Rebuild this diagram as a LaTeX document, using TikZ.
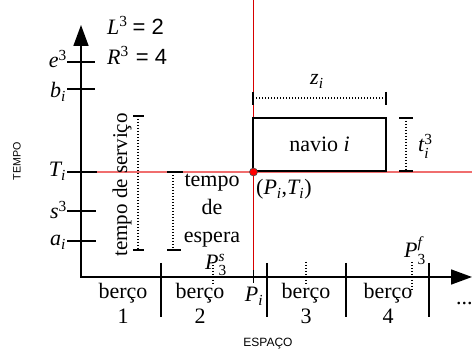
\documentclass[tikz,border=0pt]{standalone}
\usepackage{amsmath}
\usepackage{fontspec}
\setmainfont{Liberation Serif}
\setsansfont{Liberation Sans}
\usetikzlibrary{arrows.meta}
\definecolor{linhaT}{RGB}{240,110,110}
\definecolor{linhaP}{RGB}{215,0,0}
\newcommand{\tv}[1]{\textit{#1}}
\begin{document}
\begin{tikzpicture}[x=1pt, y=-1pt, >={Triangle[length=21pt,width=15pt]},
    every node/.style={inner sep=0pt, font=\fontsize{22}{26}\selectfont},
    axis/.style={line width=1.6pt},
    tick/.style={line width=1.3pt},
    dim/.style={line width=1.1pt, dash pattern=on 1.3pt off 1.7pt},
    sans/.style={font=\sffamily\fontsize{#1}{#1}\selectfont}]
    \useasboundingbox (0,0) rectangle (472,352);

    % linhas vermelhas de referencia
    \draw[linhaT, line width=1.3pt] (97,172) -- (472,172);
    \draw[linhaP, line width=1.1pt] (253.5,0) -- (253.5,277);

    % eixos
    \coordinate (O) at (81,277);
    \coordinate (Ytop) at (81,25);
    \coordinate (Xend) at (472,277);
    \draw[axis,<->] (Ytop) -- (O) -- (Xend);
    \node[sans=10.7, rotate=90] (tempo) at (17,161) {TEMPO};
    \node[sans=12] (espaco) at (268,344) {ESPAÇO};

    % marcas do eixo do tempo
    \draw[tick] (67,62) -- (95,62);
    \node[anchor=base east] (e3) at (67,68) {$\tv{e}^{\text{3}}$};
    \draw[tick] (67,89) -- (95,89);
    \node[anchor=base east] (bi) at (66,98) {$\tv{b}_{\tv{i}}$};
    \draw[tick] (67,172) -- (97,172);
    \node[anchor=base east] (Ti) at (66,177) {$\tv{T}_{\tv{i}}$};
    \draw[tick] (67,211) -- (96,211);
    \node[anchor=base east] (s3) at (67,219) {$\tv{s}^{\text{3}}$};
    \draw[tick] (67,241) -- (96,241);
    \node[anchor=base east] (ai) at (66,246) {$\tv{a}_{\tv{i}}$};

    % dados do berco
    \node[anchor=base west] (L3) at (107,35) {$\tv{L}^{\text{3}}$\hspace{5pt}\sffamily= 2};
    \node[anchor=base west] (R3) at (107,65) {$\tv{R}^{\text{3}}$\hspace{7pt}\sffamily= 4};

    % tempo de servico
    \coordinate (sv1) at (138,116);
    \coordinate (sv2) at (138,250);
    \draw[dim] (sv1) -- (sv2);
    \draw[tick] ([xshift=-5pt]sv1) -- ([xshift=6pt]sv1);
    \draw[tick] ([xshift=-5pt]sv2) -- ([xshift=6pt]sv2);
    \node[rotate=90, font=\fontsize{21}{24}\selectfont] (servico) at (122,185) {tempo de serviço};

    % tempo de espera
    \coordinate (es1) at (173,172);
    \coordinate (es2) at (173,250);
    \draw[dim] (es1) -- (es2);
    \draw[tick] ([xshift=-6pt]es1) -- ([xshift=10pt]es1);
    \draw[tick] ([xshift=-6pt]es2) -- ([xshift=8pt]es2);
    \node[align=center, font=\fontsize{22}{28}\selectfont] (espera) at (212,211) {tempo\\de\\espera};

    % navio i
    \node[draw, line width=1.3pt, minimum width=133pt, minimum height=53pt] (navio) at (319.5,144.5) {navio \tv{i}};
    \coordinate (z1) at (253,98);
    \coordinate (z2) at (386,98);
    \draw[dim] (z1) -- (z2);
    \draw[tick] ([yshift=6pt]z1) -- ([yshift=-7pt]z1);
    \draw[tick] ([yshift=6pt]z2) -- ([yshift=-7pt]z2);
    \node[anchor=base west] (zi) at (310,85) {$\tv{z}_{\tv{i}}$};
    \coordinate (t1) at (406,118);
    \coordinate (t2) at (406,171);
    \draw[dim] (t1) -- (t2);
    \draw[tick] ([xshift=-7pt]t1) -- ([xshift=7pt]t1);
    \draw[tick] ([xshift=-7pt]t2) -- ([xshift=7pt]t2);
    \node[anchor=base west] (ti3) at (418,152) {$\tv{t}_{\tv{i}}^{\text{3}}$};

    % ponto (P_i, T_i)
    \filldraw[fill=red, draw=black!70, line width=0.6pt] (253.5,172) circle (4pt);
    \node[anchor=base west] (PT) at (256,195) {($\tv{P}_{\tv{i}}$,$\tv{T}_{\tv{i}}$)};

    % bercos no eixo do espaco
    \foreach \x in {161,267,346,429}
        \draw[tick] (\x,263) -- (\x,317);
    \draw[tick] (253.5,270) -- (253.5,283);
    \draw[dim] (213,262) -- (213,285);
    \draw[dim] (306,262) -- (306,285);
    \draw[dim] (412,262) -- (412,290);
    \node[anchor=base west] (Ps) at (205,270) {$\tv{P}_{\text{3}}^{\tv{s}}$};
    \node[anchor=base west] (Pf) at (404,258) {$\tv{P}_{\text{3}}^{\tv{f}}$};
    \node[anchor=base] (Pi) at (254,302) {$\tv{P}_{\tv{i}}$};
    \node[align=center, font=\fontsize{22}{25}\selectfont] (berco1) at (123,303) {berço\\1};
    \node[align=center, font=\fontsize{22}{25}\selectfont] (berco2) at (200,303) {berço\\2};
    \node[align=center, font=\fontsize{22}{25}\selectfont] (berco3) at (306,303) {berço\\3};
    \node[align=center, font=\fontsize{22}{25}\selectfont] (berco4) at (388,303) {berço\\4};
    \node[anchor=base west] (dots) at (456,305) {...};
\end{tikzpicture}
\end{document}
